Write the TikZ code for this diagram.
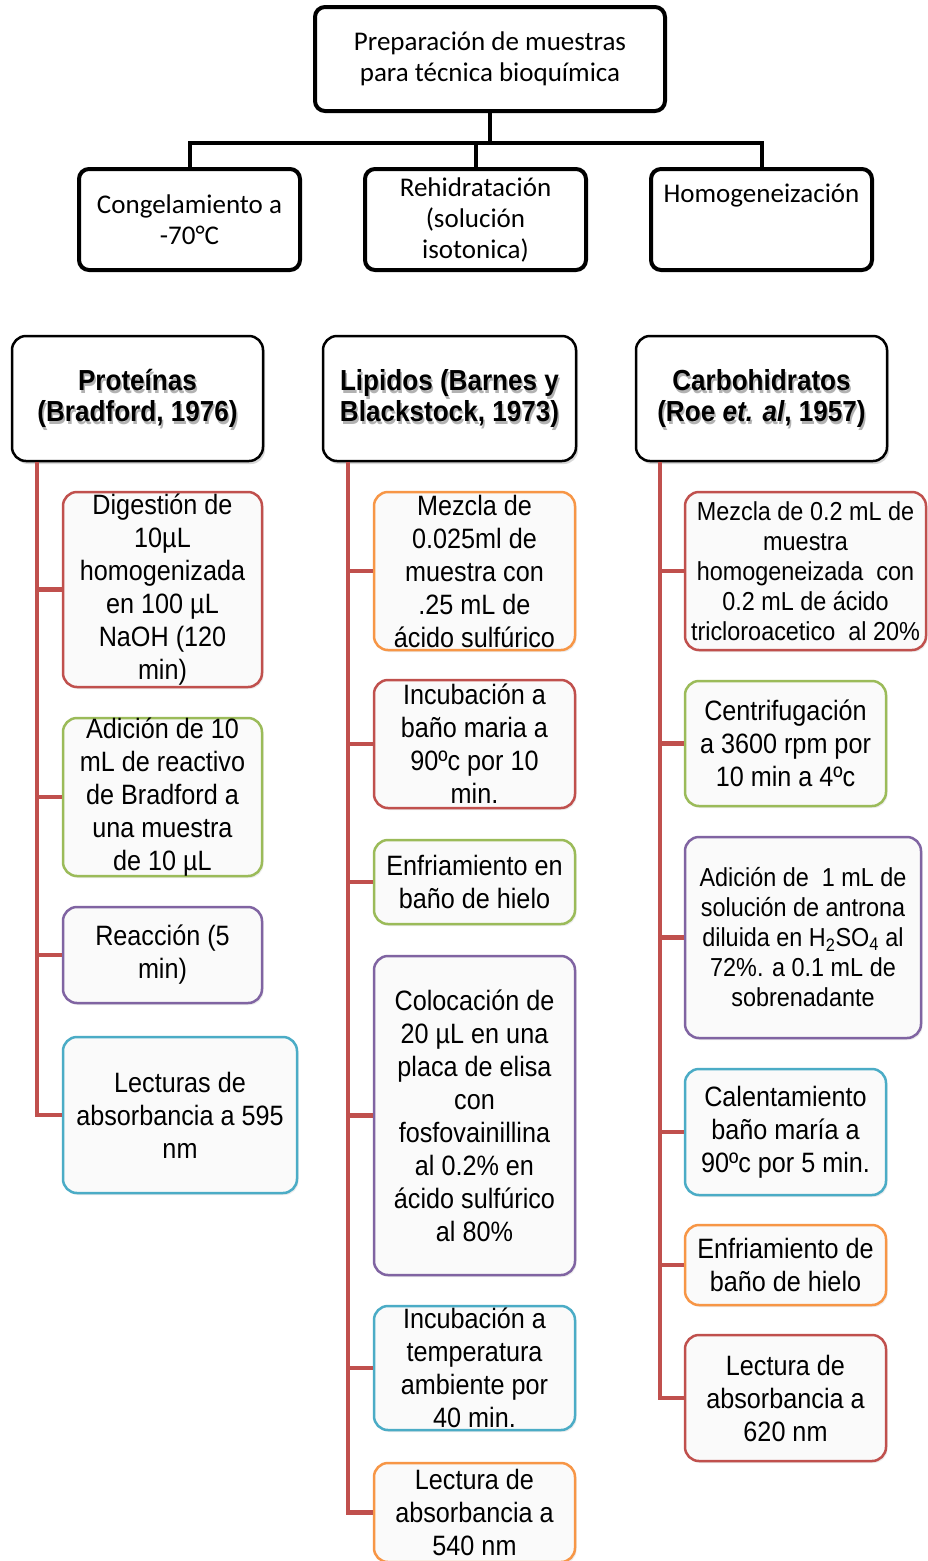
\documentclass[tikz,border=0pt]{standalone}
\usepackage{fontspec}
\setmainfont{Carlito}
\newfontfamily\narrowfont[FakeStretch=0.9]{Liberation Sans}
\usetikzlibrary{shadows}
\definecolor{cred}{HTML}{C0504D}
\definecolor{corange}{HTML}{F79646}
\definecolor{cgreen}{HTML}{9BBB59}
\definecolor{cpurple}{HTML}{8064A2}
\definecolor{cblue}{HTML}{4BACC6}
\tikzset{
  topbox/.style={draw=black, line width=4pt, rounded corners=10pt, fill=white, inner sep=0pt},
  toptext/.style={align=center, inner sep=0pt, font=\fontsize{27}{31}\selectfont},
  topconn/.style={draw=black, line width=4pt},
  headbox/.style={draw=black, line width=2.5pt, rounded corners=14pt, fill=white, inner sep=0pt,
    drop shadow={opacity=0.3, shadow xshift=2pt, shadow yshift=-3pt}},
  headtext/.style={align=center, inner sep=0pt, font=\narrowfont\bfseries\fontsize{29}{31}\selectfont},
  headshadow/.style={headtext, text=black!30},
  stepbox/.style={line width=2.5pt, rounded corners=14pt, fill=black!2, inner sep=0pt,
    drop shadow={opacity=0.15, shadow xshift=1.5pt, shadow yshift=-2pt}},
  steptext/.style={align=center, inner sep=0pt, font=\narrowfont\fontsize{28}{33}\selectfont},
  smalltext/.style={steptext, font=\narrowfont\fontsize{26}{30}\selectfont},
  tree/.style={draw=cred, line width=4.5pt},
}
\newcommand\mkbox[8]{%
  \pgfmathsetmacro\cx{(#3+#5)/2}%
  \pgfmathsetmacro\cy{(#4+#6)/2}%
  \pgfmathsetmacro\bw{#5-#3}%
  \pgfmathsetmacro\bh{#6-#4}%
  \node[#2, minimum width=\bw pt, minimum height=\bh pt] (#1) at (\cx,\cy) {};
  \node[#7] (#1t) at (\cx,\cy) {#8};
}
\newcommand\mkhead[6]{%
  \pgfmathsetmacro\cx{(#2+#4)/2}%
  \pgfmathsetmacro\cy{(#3+#5)/2}%
  \pgfmathsetmacro\bw{#4-#2}%
  \pgfmathsetmacro\bh{#5-#3}%
  \node[headbox, minimum width=\bw pt, minimum height=\bh pt] (#1) at (\cx,\cy) {};
  \node[headshadow] (#1s) at ([xshift=1.5pt,yshift=-2.5pt]#1.center) {#6};
  \node[headtext] (#1t) at (#1.center) {#6};
}
\begin{document}
\begin{tikzpicture}[x=1pt, y=-1pt]
\useasboundingbox (0,0) rectangle (927,1561);
\fill[white] (0,0) rectangle (927,1561);

% top level
\mkbox{top}{topbox}{315}{7}{665}{111}{toptext}{Preparación de muestras\\para técnica bioquímica}
\mkbox{c1}{topbox}{79}{169}{300}{270}{toptext}{Congelamiento a\\-70°C}
\mkbox{c2}{topbox}{365}{169}{586}{270}{toptext}{Rehidratación\\(solución\\isotonica)}
\node[topbox, minimum width=221pt, minimum height=101pt] (c3) at (761.5,219.5) {};
\node[toptext] (c3t) at (761.5,196) {Homogeneización};
\draw[topconn] (top.south) -- ++(0,30) coordinate (j);
\draw[topconn] (c1.north) |- (j) -| (c3.north);
\draw[topconn] (c2.north) -- (c2.north |- j);

% headers
\mkhead{h1}{12}{336}{263}{461}{Proteínas\\(Bradford, 1976)}
\mkhead{h2}{323}{336}{576}{461}{Lipidos (Barnes y\\Blackstock, 1973)}
\mkhead{h3}{636}{336}{887}{461}{Carbohidratos\\(Roe \textit{et. al}, 1957)}

% Proteinas
\mkbox{p1}{stepbox,draw=cred}{63}{492}{262}{687}{steptext}{Digestión de\\10µL\\homogenizada\\en 100 µL\\NaOH (120\\min)}
\mkbox{p2}{stepbox,draw=cgreen}{63}{718}{262}{876}{steptext}{Adición de 10\\mL de reactivo\\de Bradford a\\una muestra\\de 10 µL}
\mkbox{p3}{stepbox,draw=cpurple}{63}{907}{262}{1003}{steptext}{Reacción (5\\min)}
\mkbox{p4}{stepbox,draw=cblue}{63}{1037}{297}{1193}{steptext}{Lecturas de\\absorbancia a 595\\nm}

% Lipidos
\mkbox{l1}{stepbox,draw=corange}{374}{492}{575}{650}{steptext}{Mezcla de\\0.025ml de\\muestra con\\.25 mL de\\ácido sulfúrico}
\mkbox{l2}{stepbox,draw=cred}{374}{680}{575}{808}{steptext}{Incubación a\\baño maria a\\90ºc por 10\\min.}
\mkbox{l3}{stepbox,draw=cgreen}{374}{840}{575}{924}{steptext}{Enfriamiento en\\baño de hielo}
\mkbox{l4}{stepbox,draw=cpurple}{374}{956}{575}{1275}{steptext}{Colocación de\\20 µL en una\\placa de elisa\\con\\fosfovainillina\\al 0.2\% en\\ácido sulfúrico\\al 80\%}
\mkbox{l5}{stepbox,draw=cblue}{374}{1306}{575}{1430}{steptext}{Incubación a\\temperatura\\ambiente por\\40 min.}
\mkbox{l6}{stepbox,draw=corange}{374}{1463}{575}{1562}{steptext}{Lectura de\\absorbancia a\\540 nm}

% Carbohidratos
\mkbox{k1}{stepbox,draw=cred}{685}{492}{926}{650}{smalltext}{Mezcla de 0.2 mL de\\muestra\\homogeneizada\ \ con\\0.2 mL de ácido\\tricloroacetico\ \ al 20\%}
\mkbox{k2}{stepbox,draw=cgreen}{685}{681}{886}{806}{steptext}{Centrifugación\\a 3600 rpm por\\10 min a 4ºc}
\mkbox{k3}{stepbox,draw=cpurple}{685}{837}{921}{1038}{smalltext}{Adición de\ \ 1 mL de\\solución de antrona\\diluida en H\textsubscript{2}SO\textsubscript{4} al\\72\%. a 0.1 mL de\\sobrenadante}
\mkbox{k4}{stepbox,draw=cblue}{685}{1069}{886}{1195}{steptext}{Calentamiento\\baño maría a\\90ºc por 5 min.}
\mkbox{k5}{stepbox,draw=corange}{685}{1225}{886}{1305}{steptext}{Enfriamiento de\\baño de hielo}
\mkbox{k6}{stepbox,draw=cred}{685}{1335}{886}{1461}{steptext}{Lectura de\\absorbancia a\\620 nm}

% trees
\coordinate (t1) at ([xshift=26pt]h1.south west);
\coordinate (t2) at ([xshift=26pt]h2.south west);
\coordinate (t3) at ([xshift=25pt]h3.south west);
\draw[tree] (t1) |- (p4.west);
\foreach \n in {p1,p2,p3} \draw[tree] (\n.west) -- (\n.west -| t1);
\draw[tree] (t2) |- (l6.west);
\foreach \n in {l1,l2,l3,l4,l5} \draw[tree] (\n.west) -- (\n.west -| t2);
\draw[tree] (t3) |- (k6.west);
\foreach \n in {k1,k2,k3,k4,k5} \draw[tree] (\n.west) -- (\n.west -| t3);
\end{tikzpicture}
\end{document}
